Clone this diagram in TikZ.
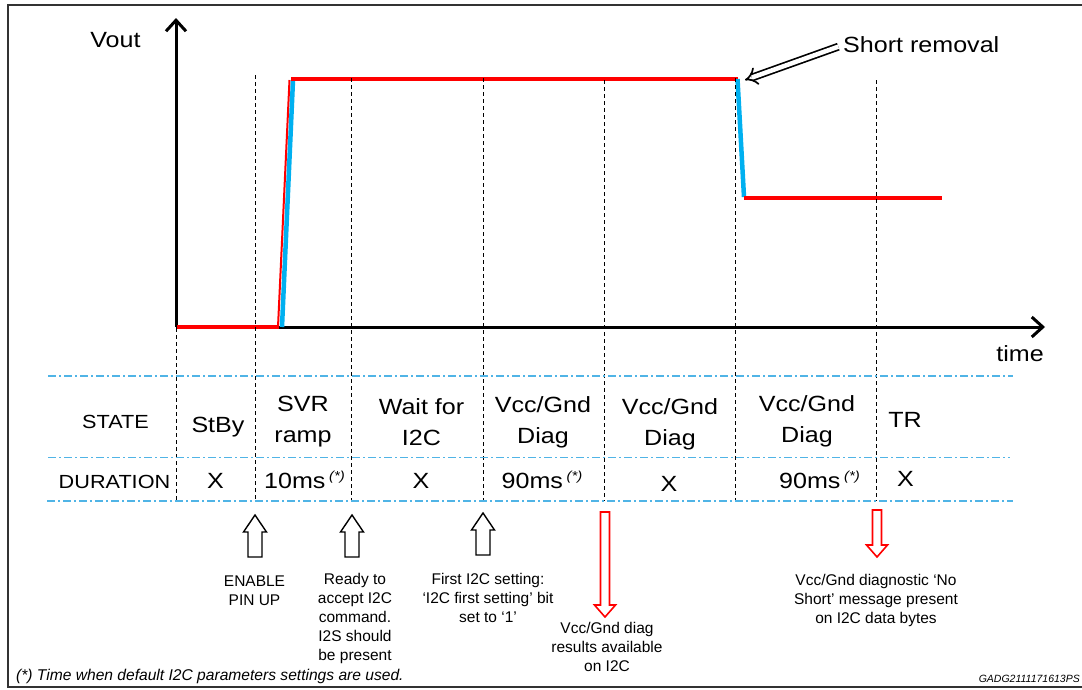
\documentclass[tikz,border=0pt]{standalone}
\usepackage{fontspec}
\setmainfont{Liberation Sans}
\newfontfamily\widesans[FakeStretch=1.14]{Liberation Sans}
\usetikzlibrary{arrows.meta}
\definecolor{sigred}{RGB}{255,0,0}
\definecolor{sigblue}{RGB}{0,176,240}
\definecolor{gridblue}{RGB}{80,180,230}
\definecolor{framegray}{RGB}{50,50,50}
\newcommand{\starnote}{\,\raisebox{8pt}{\fontsize{13}{13}\selectfont\itshape(*)}}
\begin{document}
\begin{tikzpicture}[x=1pt,y=-1pt,
  axisline/.style={line width=3pt,-{Straight Barb[length=11pt,width=20pt,line width=3pt]}},
  vdash/.style={line width=1.1pt, dash pattern=on 4pt off 3pt, black},
  gridline/.style={line width=1.3pt, gridblue, dash pattern=on 8pt off 3pt on 2pt off 3pt},
  sig/.style={line width=4.5pt, sigred},
  thinsig/.style={line width=2pt, sigred},
  ramp/.style={line width=4.5pt, sigblue},
  lbig/.style={font=\widesans\fontsize{22}{28}\selectfont, inner sep=0pt},
  tab/.style={font=\widesans\fontsize{22}{31}\selectfont, align=center, inner sep=0pt, anchor=base},
  tabhead/.style={font=\widesans\fontsize{19}{24}\selectfont, inner sep=0pt, anchor=base},
  note/.style={font=\fontsize{15.5}{19}\selectfont, align=center, inner sep=0pt, anchor=base},
  pics/uparr/.style={code={\draw[line width=1.4pt, fill=white] (-7,0) -- (-7,-25) -- (-11.5,-25) -- (0,-42) -- (11.5,-25) -- (7,-25) -- (7,0) -- cycle;}},
  pics/dnarr/.style={code={\draw[line width=1.6pt, draw=sigred, fill=white] (-4.5,0) -- (-4.5,#1-12) -- (-10.5,#1-12) -- (0,#1) -- (10.5,#1-12) -- (4.5,#1-12) -- (4.5,0) -- cycle;}},
]
\useasboundingbox (0,0) rectangle (1082,689);
% frame
\draw[line width=1.6pt, framegray] (1095,5) -- (8,5) -- (8,687) -- (1095,687);

% axes
\coordinate (org) at (176,327);
\coordinate (ytip) at (176,18);
\coordinate (xtip) at (1045,327);
\draw[axisline] (org) -- (ytip);
\draw[axisline] (org) -- (xtip);
\node[lbig] (vout) at (115.5,40) {Vout};
\node[lbig] (time) at (1020,353.5) {time};

% signal
\draw[sig] (177,327) -- (279,327);
\draw[thinsig] (278,327) -- (289.5,80);
\draw[ramp] (282,327) -- (293,80);
\draw[sig] (291,79) -- (738,79);
\draw[ramp] (737.5,79) -- (744,197);
\draw[sig] (744,198) -- (942,198);

% vertical dashed lines
\draw[vdash] (176.5,328) -- (176.5,501);
\draw[vdash] (255.5,75) -- (255.5,501);
\draw[vdash] (351.5,78) -- (351.5,501);
\draw[vdash] (483.5,78) -- (483.5,501);
\draw[vdash] (604.5,80) -- (604.5,501);
\draw[vdash] (735.5,78) -- (735.5,501);
\draw[vdash] (876.5,80) -- (876.5,501);

% short removal
\node[lbig, anchor=west] (srt) at (843,45) {Short removal};
\coordinate (srtip) at (745,80);
\draw[double, double distance=4.5pt, line width=1.7pt, -{Implies}, shorten <=5pt] (srt.west) -- (srtip);

% table grid
\draw[gridline] (48,376) -- (1013,376);
\draw[gridline] (48,457.5) -- (1010,457.5);
\draw[gridline] (47,501) -- (1013,501);

% table texts
\node[tabhead] (state) at (115.5,428) {STATE};
\node[tab] (stby) at (218,432) {StBy};
\node[tab] (svr) at (303,442) {SVR\\ramp};
\node[tab] (wait) at (421.5,445) {Wait for\\I2C};
\node[tab] (diag1) at (543,443) {Vcc/Gnd\\Diag};
\node[tab] (diag2) at (670,445) {Vcc/Gnd\\Diag};
\node[tab] (diag3) at (807,442) {Vcc/Gnd\\Diag};
\node[tab] (tr) at (905,427) {TR};

\node[tabhead] (dur) at (114.5,488) {DURATION};
\node[tab] (d1) at (215.5,488) {X};
\node[tab] (d2) at (304.5,488) {10ms\starnote};
\node[tab] (d3) at (421,488) {X};
\node[tab] (d4) at (542,488) {90ms\starnote};
\node[tab] (d5) at (669,491) {X};
\node[tab] (d6) at (819.5,488) {90ms\starnote};
\node[tab] (d7) at (905.5,486) {X};

% event arrows
\pic at (255,557) {uparr};
\pic at (352,557) {uparr};
\pic at (483,555) {uparr};
\pic at (605,512) {dnarr=105};
\pic at (877,510) {dnarr=47};

% notes
\node[note] (n1) at (254.5,605) {ENABLE\\PIN UP};
\node[note] (n2) at (355,660) {Ready to\\accept I2C\\command.\\I2S should\\be present};
\node[note] (n3) at (488,622) {First I2C setting:\\‘I2C first setting’ bit\\set to ‘1’};
\node[note] (n4) at (607,671) {Vcc/Gnd diag\\results available\\on I2C};
\node[note] (n5) at (876,623) {Vcc/Gnd diagnostic ‘No\\Short’ message present\\on I2C data bytes};

% footnotes
\node[font=\fontsize{15.6}{19}\selectfont\itshape, inner sep=0pt, anchor=base west] (fn) at (16,680) {(*) Time when default I2C parameters settings are used.};
\node[font=\fontsize{10.5}{12}\selectfont\itshape, inner sep=0pt, anchor=base east] (code) at (1080,682) {GADG2111171613PS};
\end{tikzpicture}
\end{document}
